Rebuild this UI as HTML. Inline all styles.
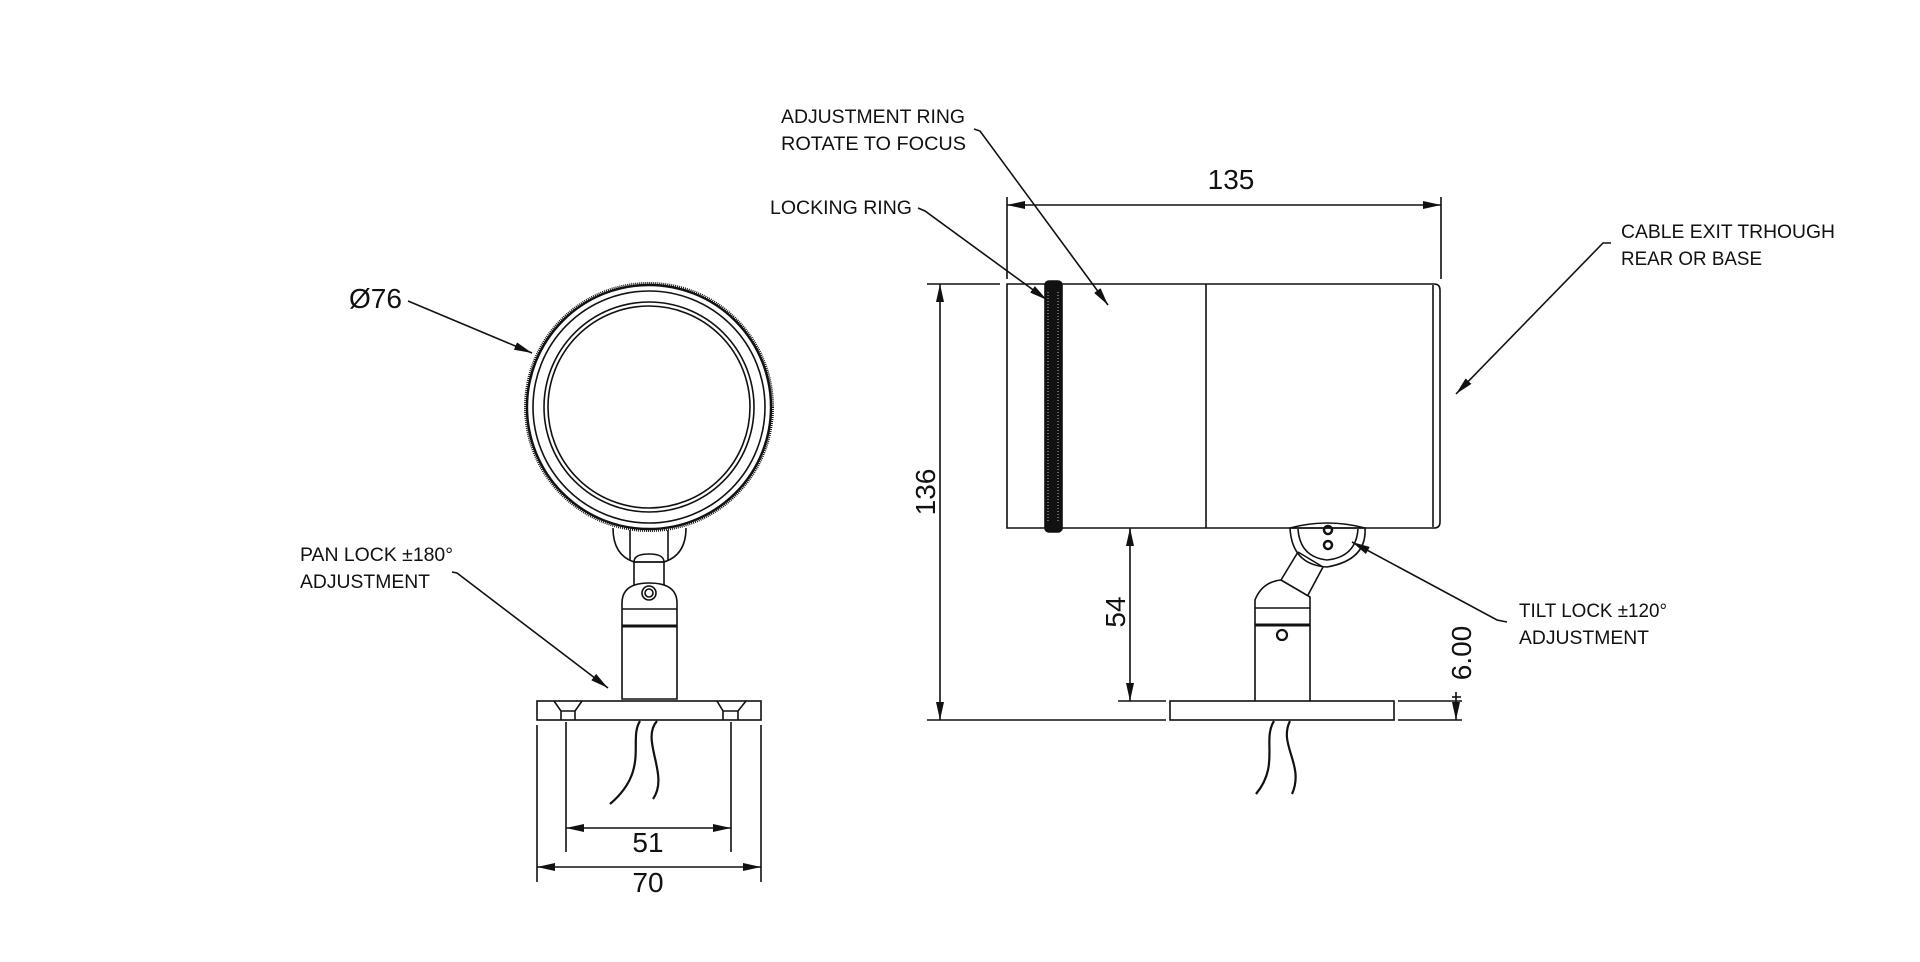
<!DOCTYPE html>
<html><head><meta charset="utf-8"><style>
html,body{margin:0;padding:0;background:#fff;}
svg{display:block;}
text{font-family:"Liberation Sans",sans-serif;fill:#111;}
</style></head><body>
<svg width="1920" height="962" viewBox="0 0 1920 962" xmlns="http://www.w3.org/2000/svg">
<defs>
<marker id="b" viewBox="0 0 18 8" refX="18" refY="4" markerWidth="18" markerHeight="8" markerUnits="userSpaceOnUse" orient="auto-start-reverse"><path d="M0,0 L18,4 L0,8 z" fill="#111"/></marker>
</defs>
<g fill="none" stroke="#111" stroke-width="1.6">
<!-- FRONT VIEW -->
<circle cx="649" cy="407" r="123.5" stroke-width="3" stroke-dasharray="1 1"/>
<circle cx="649" cy="407" r="122" stroke-width="2.4"/>
<circle cx="649" cy="407" r="116"/>
<circle cx="649" cy="407" r="105"/>
<circle cx="649" cy="407" r="101"/>
<path d="M613,528 Q613,555 634,562 L664,562 Q686,555 686,528"/>
<line x1="630" y1="530" x2="630" y2="560"/><line x1="668" y1="530" x2="668" y2="560"/>
<path d="M634,585 L634,562 Q634,554 649,554 Q664,554 664,562 L664,585"/>
<line x1="634" y1="562" x2="664" y2="562"/>
<path d="M622,699 L622,603 Q622,583 649,583 Q677,583 677,603 L677,699 Z"/>
<line x1="622" y1="609" x2="677" y2="609"/>
<line x1="622" y1="626" x2="677" y2="626" stroke-width="3"/>
<circle cx="649" cy="593" r="7"/><circle cx="649" cy="593" r="4"/>
<rect x="537" y="701" width="224" height="19"/>
<path d="M554,701 L561,711 L561,720 M582,701 L575,711 L575,720 M561,711 L575,711"/>
<path d="M717,701 L723,711 L723,720 M746,701 L738,711 L738,720 M723,711 L738,711"/>
<path d="M640,721 C628,740 650,770 610,804" stroke-width="2.2"/>
<path d="M657,721 C640,740 670,775 653,799" stroke-width="2.2"/>
<line x1="537" y1="725" x2="537" y2="882"/><line x1="761" y1="725" x2="761" y2="882"/>
<line x1="566" y1="722" x2="566" y2="852"/><line x1="731" y1="722" x2="731" y2="852"/>
<line x1="566" y1="828" x2="731" y2="828" marker-start="url(#b)" marker-end="url(#b)"/>
<line x1="537" y1="867" x2="761" y2="867" marker-start="url(#b)" marker-end="url(#b)"/>
<line x1="408" y1="301" x2="532" y2="353" marker-end="url(#b)"/>
<path d="M452,572 L457,573 L608,688" marker-end="url(#b)"/>

<!-- SIDE VIEW -->
<path d="M1007,284 L1434,284 Q1440,284 1440,290 L1440,522 Q1440,528 1434,528 L1007,528 Z"/>
<line x1="1433" y1="285" x2="1433" y2="527"/>
<line x1="1206" y1="284" x2="1206" y2="528"/>
<rect x="1045" y="281" width="17" height="251" rx="4" fill="#111"/>
<path d="M1048,292 V522 M1058,292 V522" stroke="#666" stroke-width="2" stroke-dasharray="1 2"/>
<path d="M1290,528 Q1327,518 1365,528 Q1367,560 1327,567 Q1292,565 1290,528 Z"/>
<path d="M1298,529 Q1300,557 1327,560 Q1356,557 1358,529"/>
<line x1="1290" y1="528" x2="1365" y2="528"/>
<circle cx="1328" cy="530" r="4" stroke-width="2.5"/><circle cx="1328" cy="545" r="4" stroke-width="2.5"/>
<path d="M1298,552 L1281,580 M1323,567 L1308,595 M1298,552 L1323,567"/>
<path d="M1255,701 L1255,600 Q1262,582 1281,580 L1310,597 L1310,701"/>
<line x1="1255" y1="608" x2="1310" y2="608"/>
<line x1="1255" y1="625" x2="1310" y2="625" stroke-width="3"/>
<circle cx="1282" cy="635" r="5" stroke-width="2.2"/>
<rect x="1170" y="701" width="224" height="19"/>
<path d="M1274,721 C1262,740 1280,765 1256,794" stroke-width="2.2"/>
<path d="M1290,721 C1278,745 1305,765 1292,794" stroke-width="2.2"/>
<line x1="1007" y1="197" x2="1007" y2="279"/><line x1="1441" y1="197" x2="1441" y2="279"/>
<line x1="1007" y1="205" x2="1441" y2="205" marker-start="url(#b)" marker-end="url(#b)"/>
<line x1="927" y1="284" x2="1000" y2="284"/>
<line x1="940" y1="284" x2="940" y2="720" marker-start="url(#b)" marker-end="url(#b)"/>
<line x1="927" y1="720" x2="1166" y2="720"/>
<line x1="1118" y1="701" x2="1166" y2="701"/>
<line x1="1130" y1="528" x2="1130" y2="701" marker-start="url(#b)" marker-end="url(#b)"/>
<line x1="1398" y1="701" x2="1462" y2="701"/><line x1="1398" y1="720" x2="1462" y2="720"/>
<line x1="1456" y1="692" x2="1456" y2="720" marker-end="url(#b)"/>
<line x1="1452" y1="697" x2="1461" y2="697"/>
<path d="M974,129 L980,131 L1108,305" marker-end="url(#b)"/>
<path d="M918,208 L925,211 L1047,300" marker-end="url(#b)"/>
<path d="M1611,243 L1603,243 L1456,394" marker-end="url(#b)"/>
<path d="M1507,622 L1497,620 L1352,542" marker-end="url(#b)"/>
</g>
<g font-size="19">
<text x="781" y="123" textLength="184" lengthAdjust="spacingAndGlyphs">ADJUSTMENT RING</text>
<text x="781" y="150" textLength="185" lengthAdjust="spacingAndGlyphs">ROTATE TO FOCUS</text>
<text x="770" y="214" textLength="142" lengthAdjust="spacingAndGlyphs">LOCKING RING</text>
<text x="1621" y="238" textLength="214" lengthAdjust="spacingAndGlyphs">CABLE EXIT TRHOUGH</text>
<text x="1621" y="265" textLength="141" lengthAdjust="spacingAndGlyphs">REAR OR BASE</text>
<text x="1519" y="617" textLength="148" lengthAdjust="spacingAndGlyphs">TILT LOCK ±120°</text>
<text x="1519" y="644" textLength="130" lengthAdjust="spacingAndGlyphs">ADJUSTMENT</text>
<text x="300" y="561" textLength="153" lengthAdjust="spacingAndGlyphs">PAN LOCK ±180°</text>
<text x="300" y="588" textLength="130" lengthAdjust="spacingAndGlyphs">ADJUSTMENT</text>
</g>
<g font-size="28">
<text x="349" y="308" textLength="53" lengthAdjust="spacingAndGlyphs">Ø76</text>
<text x="1231" y="189" text-anchor="middle">135</text>
<text x="648" y="852" text-anchor="middle">51</text>
<text x="648" y="892" text-anchor="middle">70</text>
<text transform="translate(935,492) rotate(-90)" text-anchor="middle">136</text>
<text transform="translate(1125,612) rotate(-90)" text-anchor="middle">54</text>
<text transform="translate(1471,653) rotate(-90)" text-anchor="middle">6.00</text>
</g>
</svg>
</body></html>
